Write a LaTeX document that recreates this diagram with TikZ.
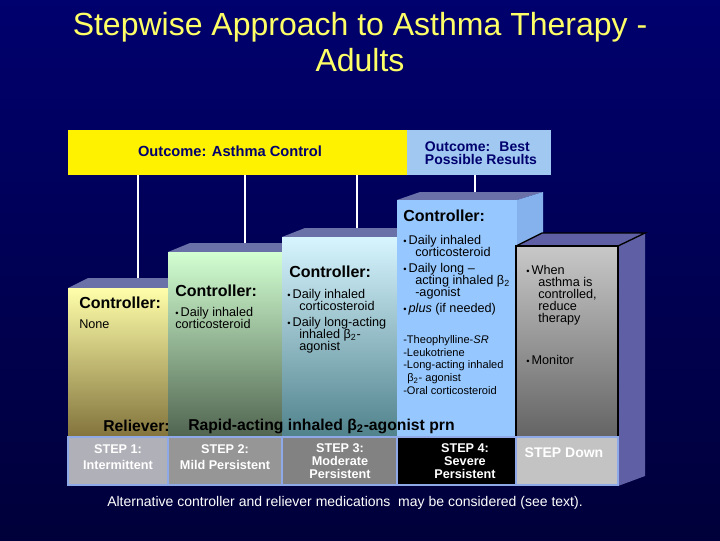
\documentclass[tikz,border=0pt]{standalone}
\usepackage{fontspec}
\setmainfont{Liberation Sans}
\definecolor{bgA}{HTML}{00006E}\definecolor{bgB}{HTML}{00003A}
\definecolor{ttl}{HTML}{FFFF66}
\definecolor{s1t}{HTML}{FFFFAA}\definecolor{s1b}{HTML}{82733C}
\definecolor{s2t}{HTML}{D2FFD2}\definecolor{s2b}{HTML}{506450}
\definecolor{s3t}{HTML}{D7F5FF}\definecolor{s3b}{HTML}{50828C}
\definecolor{s4}{HTML}{96C8FF}\definecolor{s4side}{HTML}{85B2EC}
\definecolor{sdt}{HTML}{C8C8C8}\definecolor{sdb}{HTML}{646464}
\definecolor{sdside}{HTML}{5F5FA5}
\definecolor{b1}{HTML}{B0B0B8}\definecolor{b2}{HTML}{969696}\definecolor{b3}{HTML}{828282}\definecolor{bd}{HTML}{C3C3C3}
\definecolor{ob}{HTML}{A0C8F0}\definecolor{edge}{HTML}{8FA8E8}\definecolor{topc}{HTML}{6A70A8}
\newcommand{\bul}{{\scriptsize\textbullet}\,}
\begin{document}
\begin{tikzpicture}[x=0.75pt,y=-0.75pt,
  ctl/.style={font=\fontsize{12}{12}\selectfont\bfseries, anchor=north west, inner sep=0pt},
  txt/.style={font=\fontsize{9.5}{9}\selectfont, anchor=north west, inner sep=0pt, align=left},
  sm/.style={font=\fontsize{8.3}{9.6}\selectfont, anchor=north west, inner sep=0pt, align=left},
  steplab/.style={font=\fontsize{9.5}{9.5}\selectfont\bfseries, text=white, align=center, inner sep=0pt},
  topface/.style={fill=topc},
  vline/.style={white, line width=1pt}]
\fill[top color=bgA, bottom color=bgB] (0,0) rectangle (720,540);
\useasboundingbox (0,0) rectangle (720,540);
% title
\node[text=ttl, font=\fontsize{24}{27}\selectfont, align=center] (title) at (360,42) {Stepwise Approach to Asthma Therapy -\\Adults};
% outcome boxes
\fill[yellow] (68,130) rectangle (407,175);
\fill[ob] (407,130) rectangle (551,175);
\node[font=\fontsize{11}{11}\selectfont\bfseries, text=bgA] (oc) at (230,151) {Outcome: Asthma Control};
\node[font=\fontsize{10.5}{10}\selectfont\bfseries, text=bgA, align=left] (obt) at (481,153) {Outcome:~ Best\\Possible Results};
% vertical lines
\draw[vline] (138,175) -- (138,278);
\draw[vline] (245,175) -- (245,247);
\draw[vline] (357,175) -- (357,231);
\draw[vline] (475,175) -- (475,194);
% step 1
\fill[topface] (68,288) -- (88,278) -- (178,278) -- (168,288) -- cycle;
\fill[top color=s1t, bottom color=s1b] (68,288) rectangle (168,437);
% step 2
\fill[topface] (168,252) -- (190,243) -- (292,243) -- (282,252) -- cycle;
\fill[top color=s2t, bottom color=s2b] (168,252) rectangle (282,437);
% step 3
\fill[topface] (282,237) -- (305,228) -- (407,228) -- (397,237) -- cycle;
\fill[top color=s3t, bottom color=s3b] (282,237) rectangle (397,437);
% step 4
\fill[topface] (397,200) -- (420,192) -- (543,192) -- (517,200) -- cycle;
\fill[s4side] (517,200) -- (543,192) -- (543,437) -- (517,437) -- cycle;
\fill[s4] (397,200) rectangle (517,437);
% step down
\fill[sdside] (516,246) -- (542,233) -- (645,233) -- (618,246) -- cycle;
\fill[sdside] (618,246) -- (645,233) -- (645,476) -- (618,486) -- cycle;
\fill[top color=sdt, bottom color=sdb] (516,246) rectangle (618,437);
\draw[black, line width=1pt] (516,437) -- (516,246) -- (618,246) -- (618,437);
\draw[black, line width=1pt] (516,246) -- (542,233) -- (645,233) -- (618,246);
% bottom row
\fill[b1] (68,437) rectangle (168,485);
\fill[b2] (168,437) rectangle (282,485);
\fill[b3] (282,437) rectangle (397,485);
\fill[black] (397,437) rectangle (516,485);
\fill[bd] (516,437) rectangle (618,485);
\draw[edge, line width=1pt] (68,437) rectangle (618,485);
\foreach \x in {168,282,397,516} \draw[edge, line width=1pt] (\x,437) -- (\x,485);
\node[steplab] (s1) at (118,457) {STEP 1:\\[2pt]Intermittent};
\node[steplab] (s2) at (225,457) {STEP 2:\\[2pt]Mild Persistent};
\node[steplab] (s3) at (340,461) {STEP 3:\\Moderate\\Persistent};
\node[steplab] (s4n) at (465,461) {STEP 4:\\Severe\\Persistent};
\node[steplab, font=\fontsize{10.5}{10.5}\selectfont\bfseries] (sd) at (564,453) {STEP Down};
% column texts
\node[ctl] (c1) at (79,297) {Controller:};
\node[txt] (n1) at (79,320) {None};
\node[ctl] (c2) at (175,285) {Controller:};
\node[txt] (n2) at (175,307) {\bul Daily inhaled\\corticosteroid};
\node[ctl] (c3) at (289,266) {Controller:};
\node[txt] (n3) at (287,289) {\bul Daily inhaled\\\hspace*{9pt}corticosteroid\\[3pt]\bul Daily long-acting\\\hspace*{9pt}inhaled β\textsubscript{2}-\\\hspace*{9pt}agonist};
\node[ctl] (c4) at (403,210) {Controller:};
\node[txt] (n4) at (403,235) {\bul Daily inhaled\\\hspace*{9pt}corticosteroid\\[3pt]\bul Daily long --\\\hspace*{9pt}acting inhaled β\textsubscript{2}\\\hspace*{9pt}-agonist\\[3pt]\bul \textit{plus} (if needed)};
\node[sm] (n4b) at (403,335) {-Theophylline-\textit{SR}\\-Leukotriene\\-Long-acting inhaled\\\hspace*{3pt}β\textsubscript{2}- agonist\\-Oral corticosteroid};
\node[txt] (nd) at (526,265) {\bul When\\\hspace*{9pt}asthma is\\\hspace*{9pt}controlled,\\\hspace*{9pt}reduce\\\hspace*{9pt}therapy};
\node[txt] (nm) at (526,355) {\bul Monitor};
% reliever
\node[font=\fontsize{11.8}{11.8}\selectfont\bfseries, anchor=west, inner sep=0pt] (rl) at (103,426) {Reliever:};
\node[font=\fontsize{11.8}{11.8}\selectfont\bfseries, anchor=west, inner sep=0pt] (rt) at (188,426) {Rapid-acting inhaled β\textsubscript{2}-agonist prn};
% footnote
\node[text=white, font=\fontsize{10.5}{10.5}\selectfont] (foot) at (345,503) {Alternative controller and reliever medications~ may be considered (see text).};
\end{tikzpicture}
\end{document}
